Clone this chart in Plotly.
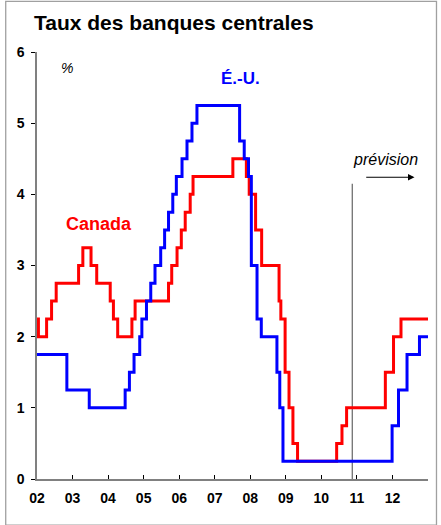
import plotly.graph_objects as go

# Policy rates (%), as step changes: date (decimal year) when each level starts
us_dates = [2002.0, 2002.84, 2003.47, 2004.48, 2004.60, 2004.73, 2004.89, 2004.95,
            2005.08, 2005.20, 2005.32, 2005.48, 2005.59, 2005.70, 2005.82, 2005.92,
            2006.08, 2006.22, 2006.36, 2006.50, 2007.70, 2007.83, 2007.95, 2008.03,
            2008.19, 2008.31, 2008.75, 2008.83, 2008.92, 2011.99, 2012.17, 2012.41,
            2012.76, 2013.0]
us_rates = [1.75, 1.25, 1.00, 1.25, 1.50, 1.75, 2.00, 2.25,
            2.50, 2.75, 3.00, 3.25, 3.50, 3.75, 4.00, 4.25,
            4.50, 4.75, 5.00, 5.25, 4.75, 4.50, 4.25, 3.00,
            2.25, 2.00, 1.50, 1.00, 0.25, 0.75, 1.25, 1.75,
            2.00, 2.00]

ca_dates = [2002.0, 2002.04, 2002.27, 2002.41, 2002.54, 2003.17, 2003.29, 2003.52,
            2003.68, 2004.06, 2004.15, 2004.27, 2004.67, 2004.76, 2005.70, 2005.79,
            2005.94, 2006.06, 2006.17, 2006.31, 2006.39, 2007.51, 2007.89, 2007.97,
            2008.15, 2008.32, 2008.81, 2008.86, 2008.98, 2009.09, 2009.20, 2009.33,
            2010.43, 2010.58, 2010.71, 2011.80, 2012.03, 2012.24, 2013.0]
ca_rates = [2.25, 2.00, 2.25, 2.50, 2.75, 3.00, 3.25, 3.00,
            2.75, 2.50, 2.25, 2.00, 2.25, 2.50, 2.75, 3.00,
            3.25, 3.50, 3.75, 4.00, 4.25, 4.50, 4.25, 4.00,
            3.50, 3.00, 2.50, 2.25, 1.50, 1.00, 0.50, 0.25,
            0.50, 0.75, 1.00, 1.50, 2.00, 2.25, 2.25]

year_ticks = list(range(2002, 2013))
year_labels = ["02", "03", "04", "05", "06", "07", "08", "09", "10", "11", "12"]
forecast_start = 2010.87

FONT = "Liberation Sans, Arial, sans-serif"

fig = go.Figure()
fig.add_trace(go.Scatter(x=ca_dates, y=ca_rates, mode="lines",
                         line=dict(color="#FF0000", width=3, shape="hv"),
                         name="Canada", hoverinfo="x+y"))
fig.add_trace(go.Scatter(x=us_dates, y=us_rates, mode="lines",
                         line=dict(color="#0000FF", width=3, shape="hv"),
                         name="É.-U.", hoverinfo="x+y"))

# forecast marker line
fig.add_shape(type="line", xref="x", yref="y", x0=forecast_start, x1=forecast_start,
              y0=0, y1=4.15, line=dict(color="#707070", width=1.3), layer="below")

# outer frame
fig.add_shape(type="rect", xref="paper", yref="paper",
              x0=-0.080, x1=1.0217, y0=-0.108, y1=1.1187,
              line=dict(color="#A0A0A0", width=1.3))

annotations = [
    dict(text="<b>Taux des banques centrales</b>", xref="paper", yref="paper",
         x=-0.0128, y=1.0696, xanchor="left", yanchor="middle",
         font=dict(size=21, color="black", family=FONT), showarrow=False),
    dict(text="<i>%</i>", xref="x", yref="y", x=2002.85, y=5.78,
         font=dict(size=14, color="black", family=FONT), showarrow=False),
    dict(text="<b>É.-U.</b>", xref="x", yref="y", x=2007.72, y=5.63,
         font=dict(size=17, color="#0000FF", family=FONT), showarrow=False),
    dict(text="<b>Canada</b>", xref="x", yref="y", x=2003.75, y=3.59,
         font=dict(size=18, color="#FF0000", family=FONT), showarrow=False),
    dict(text="<i>prévision</i>", xref="x", yref="y", x=2011.8, y=4.49,
         font=dict(size=16, color="black", family=FONT), showarrow=False),
    dict(text="", xref="x", yref="y", axref="x", ayref="y",
         x=2012.62, y=4.24, ax=2011.22, ay=4.24,
         showarrow=True, arrowhead=2, arrowsize=1.3, arrowwidth=1, arrowcolor="black"),
]

fig.update_layout(
    width=441, height=525,
    margin=dict(l=37, r=13, t=52, b=46),
    paper_bgcolor="white", plot_bgcolor="white",
    showlegend=False,
    font=dict(family=FONT, color="black"),
    annotations=annotations,
    xaxis=dict(range=[2002, 2013], tickvals=year_ticks, ticktext=year_labels,
               showgrid=False, zeroline=False, showline=True, linecolor="#808080",
               linewidth=1.5, ticks="inside", ticklen=4, tickcolor="black",
               tickfont=dict(size=14, family=FONT, weight="bold", color="black"),
               ticklabelstandoff=5),
    yaxis=dict(range=[0, 6], dtick=1, showgrid=False, zeroline=False,
               showline=True, linecolor="#808080", linewidth=1.5,
               ticks="outside", ticklen=4, tickcolor="black",
               tickfont=dict(size=14, family=FONT, weight="bold", color="black"),
               ticklabelstandoff=4),
)

fig.write_html("out.html")
